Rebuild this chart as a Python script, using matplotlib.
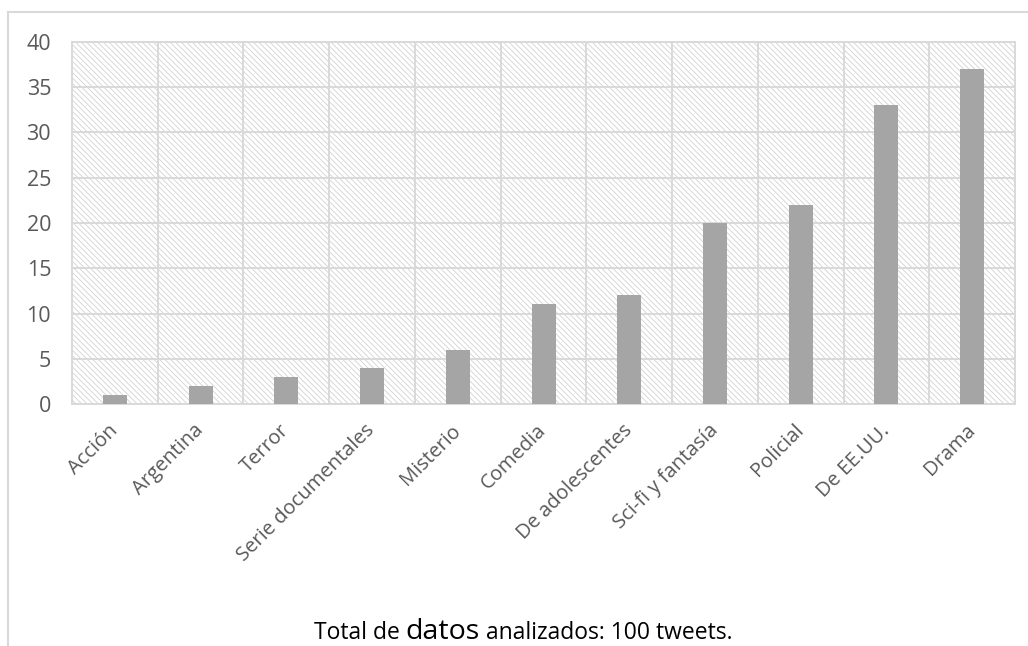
import matplotlib
matplotlib.use("Agg")
import matplotlib.pyplot as plt
from matplotlib.patches import Rectangle
from matplotlib.lines import Line2D
from matplotlib.offsetbox import TextArea, HPacker, AnchoredOffsetbox

plt.rcParams['font.family'] = ['Open Sans', 'DejaVu Sans']
plt.rcParams['hatch.linewidth'] = 0.6

categories = ["Acción", "Argentina", "Terror", "Serie documentales", "Misterio",
              "Comedia", "De adolescentes", "Sci-fi y fantasía", "Policial",
              "De EE.UU.", "Drama"]
values = [1, 2, 3, 4, 6, 11, 12, 20, 22, 33, 37]
y_ticks = [0, 5, 10, 15, 20, 25, 30, 35, 40]

GRID = "#d9d9d9"
BAR = "#a5a5a5"
TXT = "#595959"

fig = plt.figure(figsize=(10.28, 6.46), dpi=100)
ax = fig.add_axes([0.0700, 0.3746, 0.9174, 0.5604])

# hatched plot area background
ax.add_patch(Rectangle((0, 0), 1, 1, transform=ax.transAxes, facecolor="white",
                       edgecolor="#d2d2d2", hatch="\\" * 6, linewidth=0, zorder=0.5))

x = list(range(len(categories)))
ax.bar(x, values, width=0.28, color=BAR, zorder=3)

ax.set_xlim(-0.5, len(categories) - 0.5)
ax.set_ylim(0, 40)
ax.set_yticks(y_ticks)
ax.set_yticklabels([str(v) for v in y_ticks])

for v in y_ticks:
    ax.axhline(v, color=GRID, lw=1.4, zorder=1)
for b in range(len(categories) - 1):
    ax.axvline(b + 0.5, color=GRID, lw=1.4, zorder=1)

for s in ax.spines.values():
    s.set_color(GRID)
    s.set_linewidth(1.4)
    s.set_zorder(2)

ax.set_xticks(x)
ax.set_xticklabels(categories, rotation=45, ha="right", va="center",
                   rotation_mode="anchor", fontsize=14.5, color=TXT)
ax.tick_params(axis="x", length=0, pad=17)
ax.tick_params(axis="y", length=0, pad=15, labelsize=15.5, labelcolor=TXT)

# chart frame (left and top edges)
fig.add_artist(Line2D([0.0078, 0.0078], [0.0, 0.9814], color=GRID, lw=1.5,
                      transform=fig.transFigure))
fig.add_artist(Line2D([0.0078, 1.0], [0.9814, 0.9814], color=GRID, lw=1.5,
                      transform=fig.transFigure))

# caption with a larger word in the middle
parts = [("Total de ", 16.5), ("datos", 20.5), (" analizados: 100 tweets.", 16.5)]
boxes = [TextArea(t, textprops=dict(fontsize=fs, color="black")) for t, fs in parts]
pack = HPacker(children=boxes, align="baseline", pad=0, sep=0)
anch = AnchoredOffsetbox(loc="lower center", child=pack, frameon=False,
                         bbox_to_anchor=(0.509, 0.0), bbox_transform=fig.transFigure,
                         borderpad=0.0, pad=0)
fig.add_artist(anch)

fig.savefig("out.png", dpi=100)
